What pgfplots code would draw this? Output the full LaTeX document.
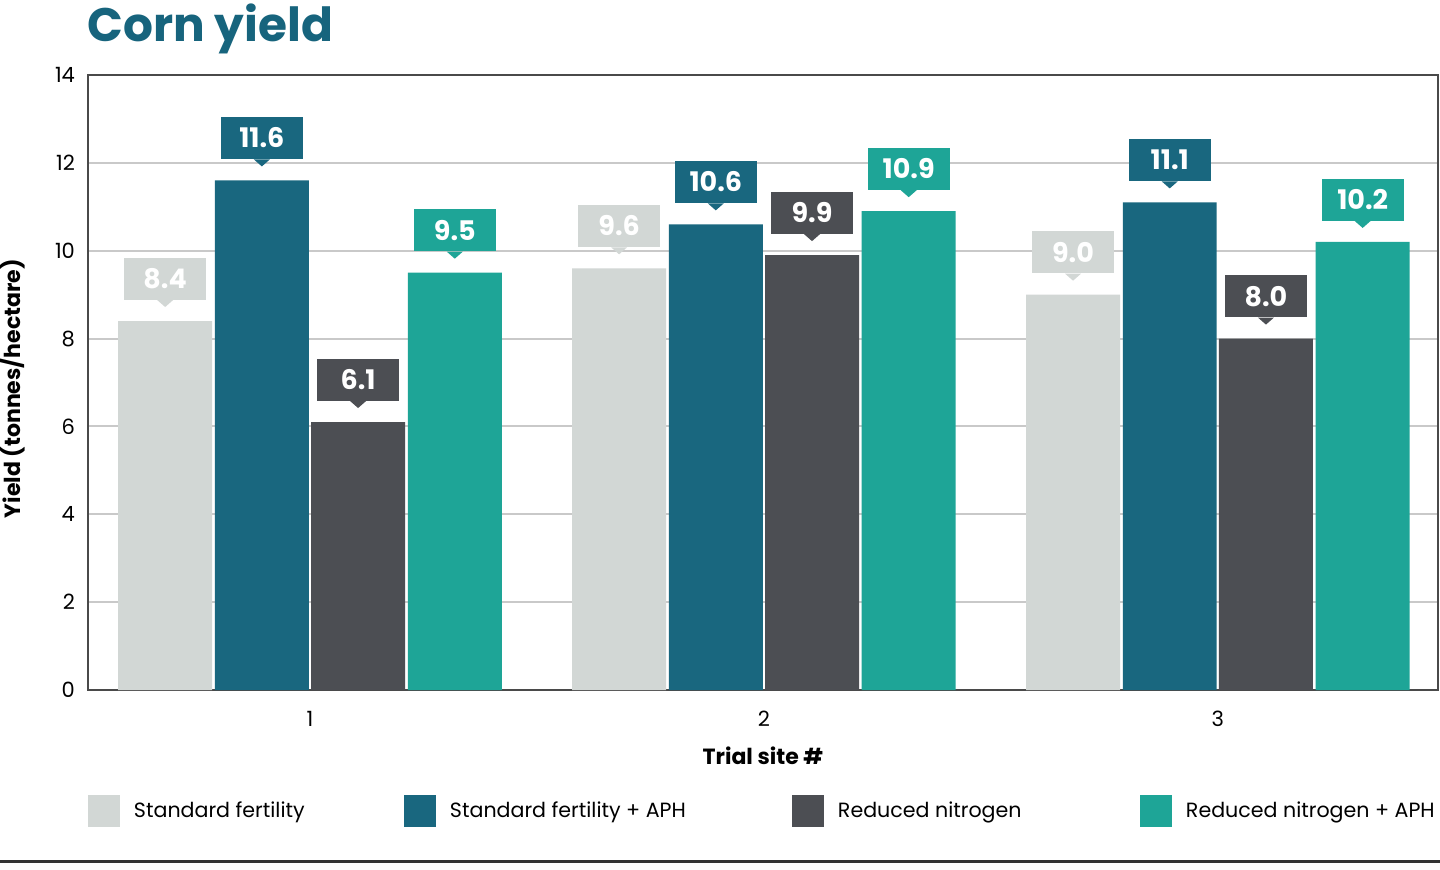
\documentclass[border=0pt]{standalone}
\usepackage{pgfplots}
\pgfplotsset{compat=1.18}
\usepackage{pgfplotstable}
\usepackage{fontspec}
\setmainfont{Poppins}

\definecolor{sfert}{HTML}{D2D7D5}
\definecolor{sfaph}{HTML}{19677F}
\definecolor{rnit}{HTML}{4C4E53}
\definecolor{rnaph}{HTML}{1EA597}
\definecolor{titleblue}{HTML}{17647D}
\definecolor{framec}{HTML}{4A4A4A}
\definecolor{gridc}{HTML}{C9C9C9}

% value tag: filled box with a small pointer under it
\tikzset{
  valbox/.style={fill=#1,
    append after command={\pgfextra{
      \fill[#1] ([xshift=-4pt]\tikzlastnode.south)
        -- ([xshift=4pt]\tikzlastnode.south)
        -- ([yshift=-3.5pt]\tikzlastnode.south) -- cycle;}}},
}

% Yield per trial site (tonnes/hectare)
\pgfplotstableread{
site sf   sfa  rn  rna
1    8.4  11.6 6.1 9.5
2    9.6  10.6 9.9 10.9
3    9.0  11.1 8.0 10.2
}\yields

\begin{document}
\begin{tikzpicture}
\useasboundingbox (-44pt,-89.5pt) rectangle (676pt,345pt);
\fill[white] (-44pt,-89.5pt) rectangle (676pt,345pt);
\begin{axis}[
  at={(0,0)}, anchor=south west,
  scale only axis, width=675pt, height=307.5pt,
  xmin=0.511, xmax=3.485, ymin=0, ymax=14,
  ytick={0,2,...,14}, xtick={1,2,3},
  ymajorgrids, grid style={gridc, line width=1pt},
  axis line style={framec, line width=1pt},
  major tick length=0pt,
  tick label style={font=\fontsize{10.5}{12}\selectfont, text=black},
  yticklabel style={xshift=-3pt},
  xticklabel style={yshift=-7pt},
  /pgf/number format/assume math mode=true,
  xlabel={Trial site \#},
  ylabel={Yield (tonnes/hectare)},
  label style={font=\bfseries\fontsize{11}{13}\selectfont},
  xlabel style={at={(axis description cs:0.5,-0.1073)}, anchor=center},
  ylabel style={at={(axis description cs:-0.0563,0.49)}, anchor=center},
  ybar, bar width=0.207,
  nodes near coords, point meta=y,
  every node near coord/.append style={
    /pgf/number format/.cd, fixed, fixed zerofill, precision=1, /tikz/.cd,
    rectangle, minimum width=41pt, minimum height=21pt,
    inner sep=0pt, text=white, font=\bfseries\fontsize{13.5}{15}\selectfont,
    anchor=south, yshift=10.5pt},
  legend columns=4,
  legend style={draw=none, fill=none, inner sep=0pt, outer sep=0pt,
    at={(axis description cs:0,-0.1967)}, anchor=west,
    font=\fontsize{10.3}{12}\selectfont,
    nodes={inner sep=0pt},
    /tikz/every odd column/.append style={column sep=7pt}},
  legend image code/.code={\fill[#1] (0pt,-8pt) rectangle (16pt,8pt);},
]
\addplot[fill=sfert, draw=none, bar shift=-0.319,
  every node near coord/.append style={valbox=sfert}]
  table[x=site, y=sf] {\yields};
\addplot[fill=sfaph, draw=none, bar shift=-0.106,
  every node near coord/.append style={valbox=sfaph}]
  table[x=site, y=sfa] {\yields};
\addplot[fill=rnit, draw=none, bar shift=0.106,
  every node near coord/.append style={valbox=rnit}]
  table[x=site, y=rn] {\yields};
\addplot[fill=rnaph, draw=none, bar shift=0.319,
  every node near coord/.append style={valbox=rnaph}]
  table[x=site, y=rna] {\yields};
\legend{\makebox[135pt][l]{Standard fertility},
        \makebox[171pt][l]{Standard fertility + APH},
        \makebox[151pt][l]{Reduced nitrogen},
        Reduced nitrogen + APH}
\end{axis}
\node[anchor=base west, inner sep=0pt, text=titleblue,
  font=\bfseries\fontsize{23.5}{28}\selectfont] at (-0.5pt,324pt) {Corn yield};
\draw[line width=1.5pt, color=black!80] (-44pt,-85.5pt) -- (676pt,-85.5pt);
\end{tikzpicture}
\end{document}
